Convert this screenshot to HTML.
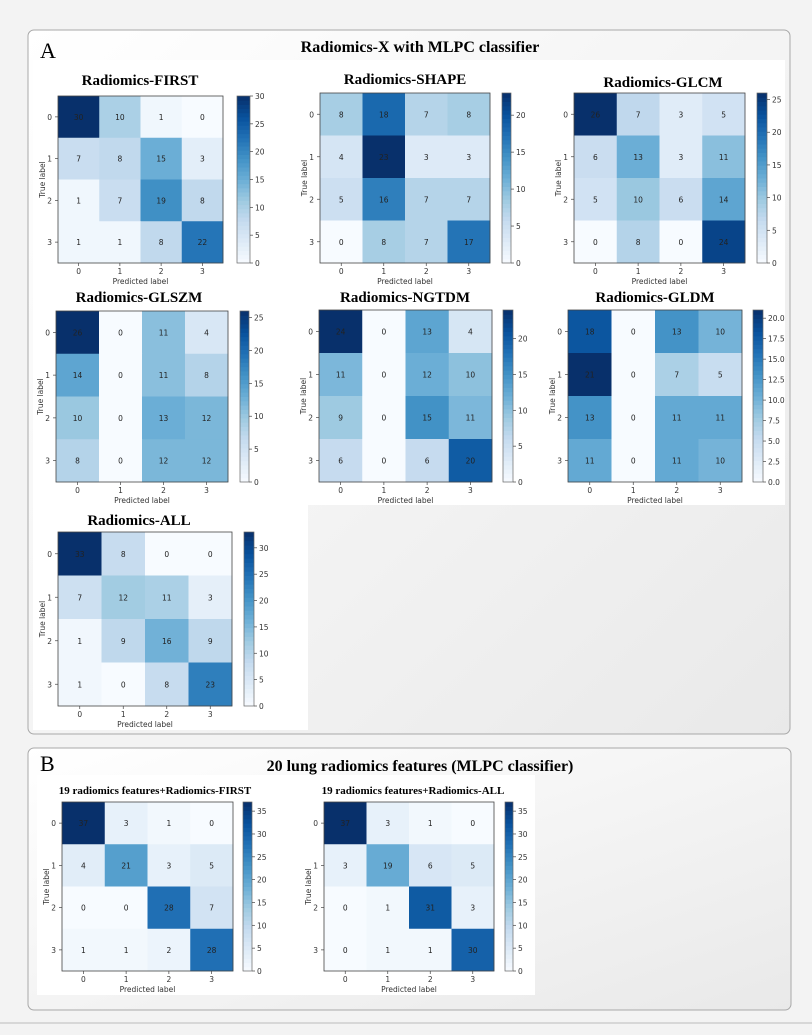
<!DOCTYPE html>
<html><head><meta charset="utf-8"><style>
body{margin:0;background:#f1f1f1;}
svg{display:block;font-family:"DejaVu Sans","Liberation Sans",sans-serif;}
.ttl{font-family:"Liberation Serif",serif;font-weight:bold;}
</style></head><body>
<svg id="root" width="812" height="1035" viewBox="0 0 812 1035" xmlns="http://www.w3.org/2000/svg">
<defs>
<linearGradient id="pg" x1="0" y1="0" x2="1" y2="1"><stop offset="0" stop-color="#ffffff"/><stop offset="1" stop-color="#e9e9e9"/></linearGradient>
</defs>
<rect x="0" y="0" width="812" height="1035" fill="#f3f3f3"/>
<rect x="28" y="30" width="762" height="704" rx="6" fill="url(#pg)" stroke="#a8a8a8"/>
<rect x="28" y="748" width="763" height="262" rx="6" fill="url(#pg)" stroke="#a8a8a8"/>
<line x1="0" y1="1023" x2="812" y2="1023" stroke="#bbb"/>
<rect x="33" y="60" width="752" height="445" fill="#fff"/>
<rect x="33" y="505" width="275" height="225" fill="#fff"/>
<rect x="37" y="775" width="498" height="220" fill="#fff"/>
<text x="40" y="58" font-size="22" font-family="Liberation Serif,serif">A</text>
<text x="420" y="52" font-size="16" text-anchor="middle" class="ttl">Radiomics-X with MLPC classifier</text>
<text x="40" y="771" font-size="22" font-family="Liberation Serif,serif">B</text>
<text x="420" y="771" font-size="16" text-anchor="middle" class="ttl">20 lung radiomics features (MLPC classifier)</text>
<g id="charts"></g>
</svg>
<script>
const classLabels = ["0","1","2","3"];
const firstValues = [[30,10,1,0],[7,8,15,3],[1,7,19,8],[1,1,8,22]];
const shapeValues = [[8,18,7,8],[4,23,3,3],[5,16,7,7],[0,8,7,17]];
const glcmValues = [[26,7,3,5],[6,13,3,11],[5,10,6,14],[0,8,0,24]];
const glszmValues = [[26,0,11,4],[14,0,11,8],[10,0,13,12],[8,0,12,12]];
const ngtdmValues = [[24,0,13,4],[11,0,12,10],[9,0,15,11],[6,0,6,20]];
const gldmValues = [[18,0,13,10],[21,0,7,5],[13,0,11,11],[11,0,11,10]];
const allValues = [[33,8,0,0],[7,12,11,3],[1,9,16,9],[1,0,8,23]];
const bFirstValues = [[37,3,1,0],[4,21,3,5],[0,0,28,7],[1,1,2,28]];
const bAllValues = [[37,3,1,0],[3,19,6,5],[0,1,31,3],[0,1,1,30]];
const chartTitles = ["Radiomics-FIRST","Radiomics-SHAPE","Radiomics-GLCM","Radiomics-GLSZM","Radiomics-NGTDM","Radiomics-GLDM","Radiomics-ALL","19 radiomics features+Radiomics-FIRST","19 radiomics features+Radiomics-ALL"];
const colorbarSteps = [5,5,5,5,5,2.5,5,5,5];

const NS="http://www.w3.org/2000/svg";
const stops=["#f7fbff","#deebf7","#c6dbef","#9ecae1","#6baed6","#4292c6","#2171b5","#08519c","#08306b"];
function hex(h){return [1,3,5].map(i=>parseInt(h.substr(i,2),16));}
function blues(t){t=Math.max(0,Math.min(1,t));const p=t*8,i=Math.min(7,Math.floor(p)),f=p-i;const a=hex(stops[i]),b=hex(stops[i+1]);return "rgb("+a.map((v,k)=>Math.round(v+(b[k]-v)*f)).join(",")+")";}
function mk(tag,attrs,parent,txt){const e=document.createElementNS(NS,tag);for(const k in attrs)e.setAttribute(k,attrs[k]);if(txt!==undefined)e.textContent=txt;parent.appendChild(e);return e;}
const root=document.getElementById("charts");
// layout: [matrix x0,y0,x1,y1, cb x0,x1, titleX,titleY,titleSize]
const layouts=[
 [58,96,223,263,237,250,140,80,15],
 [320,93,490,263,502,511,405,79,15],
 [574,93,745,263,757,767,663,82,15],
 [56,311,228,482,240,249,139,297,15],
 [319,310,492,482,503,513,405,297,15],
 [568,310,742,482,753,763,655,297,15],
 [58,532,232,706,244,254,139,520,15],
 [62,802,233,971,243,252,155,789,11],
 [324,802,494,971,505,513,413,789,11]];
const datasets=[firstValues,shapeValues,glcmValues,glszmValues,ngtdmValues,gldmValues,allValues,bFirstValues,bAllValues];
const slugs=["first","shape","glcm","glszm","ngtdm","gldm","all","b-first","b-all"];
datasets.forEach((vals,ci)=>{
 const L=layouts[ci];const slug=slugs[ci];
 const g=mk("g",{},root);
 
 
 const n=classLabels.length;
 let vmax=0;vals.forEach(r=>r.forEach(v=>{if(v>vmax)vmax=v;}));
 const xS=c=>L[0]+(L[2]-L[0])*c/n, yS=r=>L[1]+(L[3]-L[1])*r/n;
 const t=mk("text",{x:L[6],y:L[7]+5,"font-size":L[8],"text-anchor":"middle","class":"ttl"},g,chartTitles[ci]);
 
 
 vals.forEach((row,r)=>row.forEach((v,c)=>{
  const rc=mk("rect",{x:xS(c),y:yS(r),width:xS(c+1)-xS(c)+0.3,height:yS(r+1)-yS(r)+0.3,fill:blues(v/vmax)},g);
  
  
  const tx=mk("text",{x:(xS(c)+xS(c+1))/2,y:(yS(r)+yS(r+1))/2+3,"font-size":7.5,"text-anchor":"middle",fill:"#222"},g,String(v));
  
  
 }));
 const fr=mk("rect",{x:L[0],y:L[1],width:L[2]-L[0],height:L[3]-L[1],fill:"none",stroke:"#444","stroke-width":0.8},g);
 
 
 classLabels.forEach((lab,i)=>{
  const cx=(xS(i)+xS(i+1))/2, cy=(yS(i)+yS(i+1))/2;
  mk("line",{x1:cx,y1:L[3],x2:cx,y2:L[3]+3,stroke:"#444","stroke-width":0.7},g);
  const xl=mk("text",{x:cx,y:L[3]+11,"font-size":7.5,"text-anchor":"middle",fill:"#333"},g,lab);
  
  
  mk("line",{x1:L[0]-3,y1:cy,x2:L[0],y2:cy,stroke:"#444","stroke-width":0.7},g);
  const yl=mk("text",{x:L[0]-6,y:cy+3,"font-size":7.5,"text-anchor":"end",fill:"#333"},g,lab);
  
  
 });
 const xa=mk("text",{x:(L[0]+L[2])/2,y:L[3]+21,"font-size":7.5,"text-anchor":"middle",fill:"#333"},g,"Predicted label");
 
 
 const ya=mk("text",{x:0,y:0,"font-size":7.5,"text-anchor":"middle",fill:"#333",transform:"translate("+(L[0]-13)+","+((L[1]+L[3])/2)+") rotate(-90)"},g,"True label");
 
 
 // colorbar
 const steps=40,ch=(L[3]-L[1]);
 for(let s=0;s<steps;s++){
  mk("rect",{x:L[4],y:L[3]-ch*(s+1)/steps,width:L[5]-L[4],height:ch/steps+0.5,fill:blues((s+0.5)/steps)},g);
 }
 const cb=mk("rect",{x:L[4],y:L[1],width:L[5]-L[4],height:ch,fill:"none",stroke:"#666","stroke-width":0.7},g);
 
 
 const st=colorbarSteps[ci];
 for(let v=0;v<=vmax+1e-9;v+=st){
  const y=L[3]-ch*v/vmax;
  mk("line",{x1:L[5],y1:y,x2:L[5]+3,y2:y,stroke:"#444","stroke-width":0.7},g);
  const tl=mk("text",{x:L[5]+5,y:y+3,"font-size":7.5,fill:"#333"},g,st%1?v.toFixed(1):String(v));
  
  
 }
});
</script>
</body></html>
